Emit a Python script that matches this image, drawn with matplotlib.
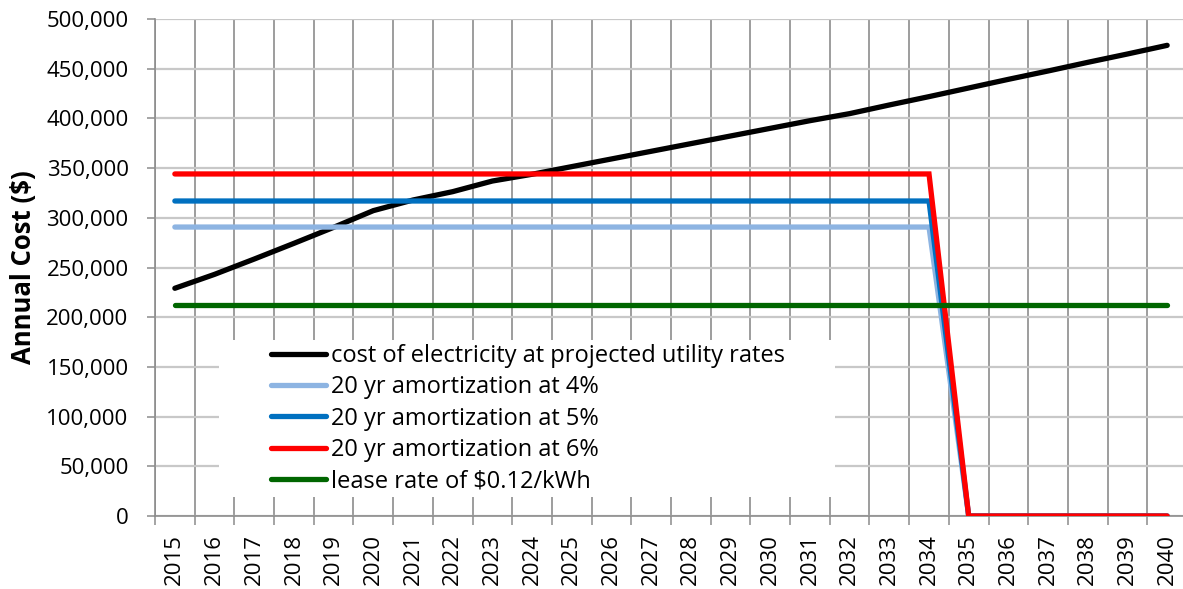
import numpy as np
import matplotlib
matplotlib.use("Agg")
import matplotlib.pyplot as plt
from matplotlib.patches import Rectangle
from matplotlib.ticker import FuncFormatter

plt.rcParams['font.family'] = ['Open Sans', 'DejaVu Sans']

years = [str(y) for y in range(2015, 2041)]

# cost of electricity at projected utility rates
electricity = [229100, 243100, 258500, 274300, 290400, 307200, 317900, 326300, 337000,
               343800, 351500, 359200, 366900, 374600, 382300, 390000, 397700,
               404800, 413500, 421900, 430600, 439300, 447700, 456400, 464800, 473500]
amort_4 = [290700] * 20 + [0] * 6
amort_5 = [316900] * 20 + [0] * 6
amort_6 = [344100] * 20 + [0] * 6
lease = [212300] * 26

series = [
    ("cost of electricity at projected utility rates", electricity, "#000000"),
    ("20 yr amortization at 4%", amort_4, "#8DB4E2"),
    ("20 yr amortization at 5%", amort_5, "#0070C0"),
    ("20 yr amortization at 6%", amort_6, "#FF0000"),
    ("lease rate of $0.12/kWh", lease, "#006600"),
]

fig = plt.figure(figsize=(11.83, 5.89), dpi=100)
ax = fig.add_axes([155 / 1183, 1 - 516 / 589, 1032 / 1183, 497 / 589])

x = np.arange(len(years))
for label, vals, color in series:
    ax.plot(x, vals, color=color, lw=3.8, label=label, solid_capstyle='round',
            solid_joinstyle='miter', zorder=3)

ax.set_xlim(-0.5, len(years) - 0.5)
ax.set_ylim(0, 500000)
ax.set_yticks(np.arange(0, 500001, 50000))
ax.yaxis.set_major_formatter(FuncFormatter(lambda v, p: f"{v:,.0f}"))

ax.set_xticks(x)
ax.set_xticklabels(years, rotation=90)
ax.set_xticks(np.arange(-0.5, len(years)), minor=True)
ax.tick_params(axis='x', which='major', length=0, pad=13, labelsize=16)
ax.tick_params(axis='x', which='minor', length=6.5, width=1.1, color='#8C8C8C')
ax.tick_params(axis='y', which='major', length=6, width=1.1, color='#8C8C8C',
               pad=13, labelsize=16)

ax.set_axisbelow(True)
ax.grid(which='minor', axis='x', color='#8C8C8C', lw=1.2)
ax.grid(which='major', axis='y', color='#C8C8C8', lw=1.6)

for s in ['top', 'right']:
    ax.spines[s].set_visible(False)
for s in ['left', 'bottom']:
    ax.spines[s].set_color('#8C8C8C')
    ax.spines[s].set_linewidth(1.2)

ax.set_ylabel("Annual Cost ($)", fontsize=18.5, fontweight='bold', labelpad=7)

# white box behind the legend, covering the grid
ax.add_patch(Rectangle((64 / 1032, 19 / 497), 616 / 1032, 157 / 497,
                       transform=ax.transAxes, facecolor='white',
                       edgecolor='none', zorder=1))
ax.legend(loc='upper left', bbox_to_anchor=(116 / 1032, 172 / 497), frameon=False,
          fontsize=17, borderpad=0, labelspacing=0.31, handlelength=2.33,
          handletextpad=0.21, borderaxespad=0)

fig.savefig("out.png", dpi=100)
